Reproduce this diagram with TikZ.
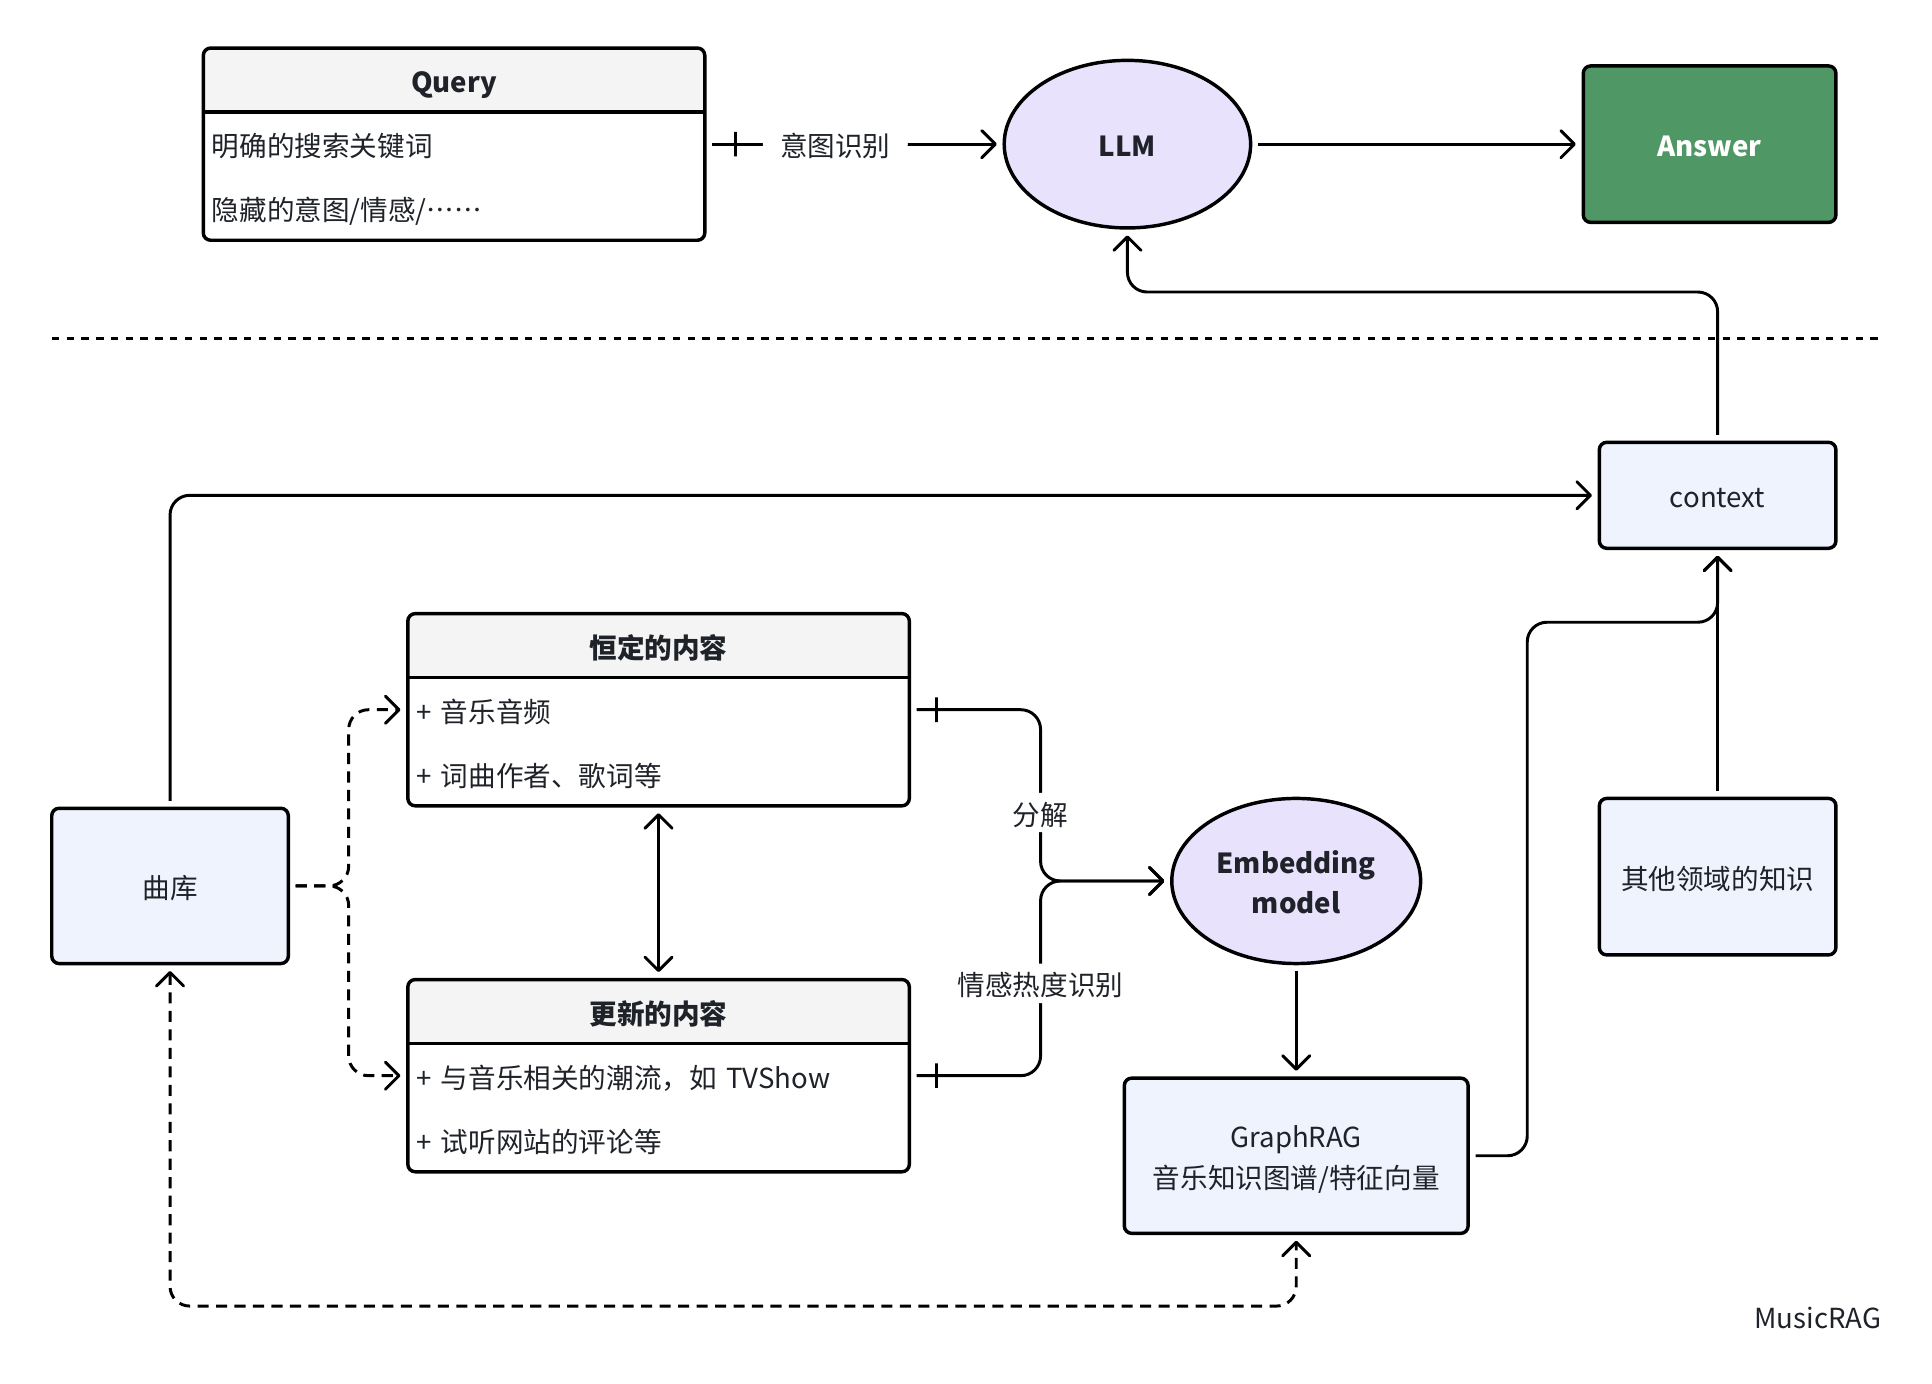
\documentclass[tikz,border=0pt]{standalone}
\usepackage{fontspec}
\setmainfont{Noto Sans CJK SC}[Script=CJK, Language=Chinese Simplified]
\usetikzlibrary{positioning,shapes.geometric,arrows.meta,calc}

\definecolor{inkdark}{HTML}{1F2329}
\definecolor{headgray}{HTML}{F4F4F4}
\definecolor{paleblue}{HTML}{EEF3FD}
\definecolor{lavender}{HTML}{E8E2FD}
\definecolor{answergreen}{HTML}{509766}

\newcommand\diagtext{\fontsize{11.2}{16.5}\selectfont}
\newcommand\diagbold{\fontsize{11.2}{16.5}\selectfont\bfseries}

\tikzset{
  basebox/.style={draw, rectangle, rounded corners=3pt, line width=1.4pt, outer sep=0pt, align=center},
  infobox/.style={basebox, fill=paleblue, minimum width=96pt},
  classbox/.style={basebox, fill=white, minimum width=203.5pt, minimum height=78pt,
    path picture={\fill[headgray] (path picture bounding box.north west) rectangle ([yshift=-26pt]path picture bounding box.north east);}},
  classhead/.style={font=\diagbold, minimum width=203.5pt, minimum height=26pt, inner sep=0pt, outer sep=0pt},
  classrow/.style={text width=196.5pt, inner xsep=3.5pt, inner ysep=0pt, minimum height=26pt, align=left, outer sep=0pt},
  headrule/.style={line width=1.4pt},
  twoline/.style={text height=27.1pt, text depth=0.4pt},
  modelnode/.style={draw, ellipse, fill=lavender, line width=1.4pt, outer sep=0pt, minimum width=100pt, align=center, font=\diagbold},
  link/.style={line width=1.2pt, shorten <=3pt, shorten >=3pt, rounded corners=8pt},
  arr/.style={link, -{Straight Barb[length=5.5pt,width=11pt,round]}},
  twoway/.style={link, {Straight Barb[length=5.5pt,width=11pt,round]}-{Straight Barb[length=5.5pt,width=11pt,round]}},
  dashlink/.style={dash pattern=on 4.5pt off 3pt},
  lbl/.style={fill=white, inner xsep=7pt, inner ysep=2.5pt},
  crossbar/.style={draw, solid, sharp corners, line width=1.2pt, inner sep=0pt, text height=0pt, text depth=0pt, minimum width=0pt, minimum height=10pt}
}

\begin{document}
\begin{tikzpicture}[x=0.5pt, y=-0.5pt, font=\diagtext, text=inkdark,
    every node/.append style={text height=10.6pt, text depth=0.4pt}]
    \useasboundingbox (0,0) rectangle (1568,1123);

    \node[modelnode, minimum height=68pt] (llm) at (915,117) {LLM};
    \node[classbox, node distance=273.25pt, left of=llm] (query) {};
    \node[classhead, anchor=north] (queryhead) at (query.north) {Query};
    \node[classrow, below=0pt of queryhead] (querykeys) {明确的搜索关键词};
    \node[classrow, below=0pt of querykeys] (queryhidden) {隐藏的意图/情感/……};
    \node[basebox, fill=answergreen, text=white, font=\diagbold, minimum width=102.5pt, minimum height=63.5pt, node distance=236.25pt, right of=llm] (answer) {Answer};

    \draw[line width=1.3pt, dash pattern=on 3pt off 3pt] (42,275) -- (1527,275);

    \node[infobox, minimum height=43pt] (context) at (1394,402) {context};
    \node[infobox, minimum height=63.5pt, node distance=154.75pt, below of=context] (other) {其他领域的知识};
    \node[infobox, minimum height=63pt] (library) at (138,719) {曲库};

    \node[classbox] (fixed) at (534.5,576) {};
    \node[classhead, anchor=north] (fixedhead) at (fixed.north) {恒定的内容};
    \node[classrow, below=0pt of fixedhead] (fixedaudio) {+ 音乐音频};
    \node[classrow, below=0pt of fixedaudio] (fixedlyrics) {+ 词曲作者、歌词等};

    \node[classbox, node distance=148.5pt, below of=fixed] (update) {};
    \node[classhead, anchor=north] (updatehead) at (update.north) {更新的内容};
    \node[classrow, below=0pt of updatehead] (updatetrend) {+ 与音乐相关的潮流，如 TVShow};
    \node[classrow, below=0pt of updatetrend] (updatereview) {+ 试听网站的评论等};

    \node[modelnode, twoline, minimum height=67pt] (emb) at (1052,715) {Embedding\\model};
    \node[basebox, twoline, fill=paleblue, minimum width=139.5pt, minimum height=63pt, node distance=111.5pt, below of=emb] (graphrag) {GraphRAG\\音乐知识图谱/特征向量};

    \node[anchor=east, inner sep=0pt] (brand) at (1527,1068) {MusicRAG};

    \draw[headrule] (queryhead.south west) -- (queryhead.south east);
    \draw[headrule] (fixedhead.south west) -- (fixedhead.south east);
    \draw[headrule] (updatehead.south west) -- (updatehead.south east);

    \coordinate (merge) at ($(fixed.east)!0.5!(emb.west)$);

    \draw[arr] (query) -- node[crossbar, pos=0.103]{} node[lbl, pos=0.436]{意图识别} (llm);
    \draw[arr] (llm) -- (answer);
    \draw[arr] (context.north) -- ++(0,-122) -| (llm.south);
    \draw[arr] (library.north) |- (context.west);
    \draw[arr, dashlink] (library.east) -- ++(49,0) |- (fixed.west |- fixedaudio);
    \draw[arr, dashlink] (library.east) -- ++(49,0) |- (update.west |- updatetrend);
    \draw[twoway] (fixed) -- (update);
    \draw[arr] (fixed.east |- fixedaudio) -| node[crossbar, pos=0.103]{} node[lbl, pos=0.8]{分解} (merge |- emb.west) -- (emb.west);
    \draw[arr] (update.east |- updatetrend) -| node[crossbar, pos=0.103]{} node[lbl, pos=0.737]{情感热度识别} (merge |- emb.west) -- (emb.west);
    \draw[arr] (emb) -- (graphrag);
    \draw[arr] (graphrag.east) -- ++(48,0) |- ([yshift=-30pt]context.south) -- (context.south);
    \draw[arr] (other) -- (context);
    \draw[twoway, dashlink] (library.south) |- ([yshift=-29.5pt]graphrag.south) -- (graphrag.south);
\end{tikzpicture}
\end{document}
